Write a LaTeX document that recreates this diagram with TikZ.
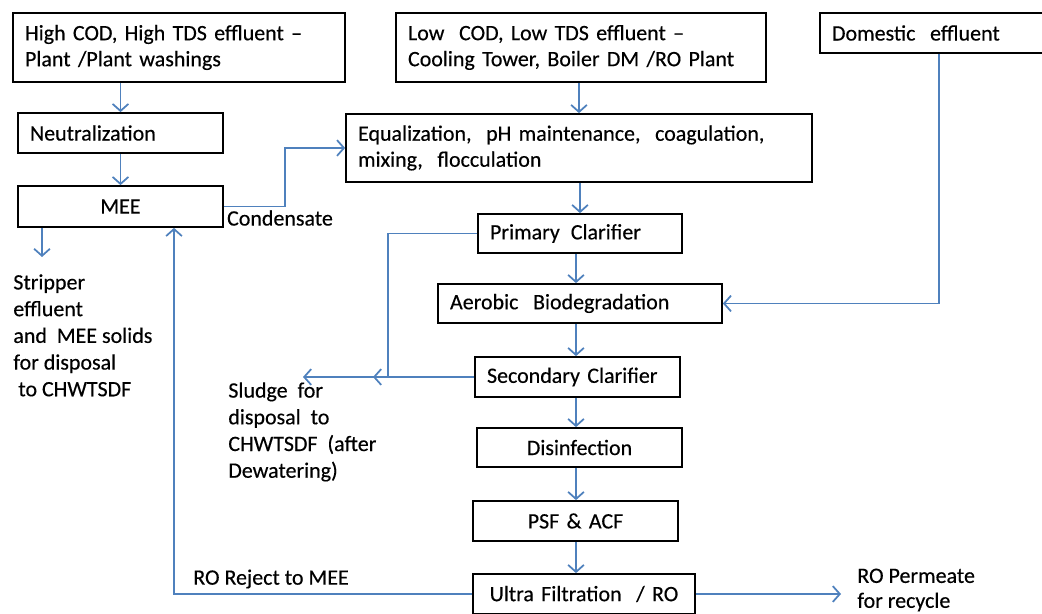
\documentclass[tikz,border=0pt]{standalone}
\usepackage{fontspec}
\setmainfont{Carlito}[FakeBold=0.35]
\usepackage{tikz}
\usetikzlibrary{arrows.meta}
\definecolor{flowblue}{RGB}{79,129,189}

\begin{document}
\begin{tikzpicture}[x=0.02cm, y=-0.02cm,
	box/.style={draw, line width=1pt, inner xsep=0.24cm, inner ysep=0pt, font=\fontsize{12.5}{14.8}\selectfont},
	flow/.style={draw=flowblue, line width=1pt, -{Straight Barb[length=4pt, width=9pt]}},
	txt/.style={inner sep=0pt, align=left, font=\fontsize{12.5}{15.2}\selectfont}]
	\useasboundingbox (0,0) rectangle (1042,614);

	% feed streams
	\node[box, text width=6.16cm, minimum height=1.38cm, align=left] (src1) at (179,47.5) {High COD, High TDS effluent –\\Plant /Plant washings};
	\node[box, text width=6.92cm, minimum height=1.38cm, align=left] (src2) at (581,47.5) {Low~ COD, Low TDS effluent –\\Cooling Tower, Boiler DM /RO Plant};
	\node[box, text width=4.28cm, minimum height=0.80cm, align=left] (dom) at (939,33) {Domestic~ effluent};

	% high TDS line
	\node[box, text width=3.62cm, minimum height=0.80cm, align=left] (neut) at (120.5,133) {Neutralization};
	\node[box, text width=3.62cm, minimum height=0.82cm, align=center] (mee) at (120.5,206.5) {MEE};

	% main line
	\node[box, text width=8.84cm, minimum height=1.36cm, align=left] (equal) at (579,148) {Equalization,~ pH maintenance,~ coagulation,\\mixing,~ flocculation};
	\node[box, text width=3.60cm, minimum height=0.78cm, align=left] (prim) at (580,233.5) {Primary\, Clarifier};
	\node[box, text width=5.20cm, minimum height=0.78cm, align=left] (aero) at (580,303.5) {Aerobic~ Biodegradation};
	\node[box, text width=3.62cm, minimum height=0.80cm, align=left] (sec) at (577.5,377) {Secondary Clarifier};
	\node[box, text width=3.62cm, minimum height=0.78cm, align=center] (dis) at (579.5,447.5) {Disinfection};
	\node[box, text width=3.62cm, minimum height=0.80cm, align=center] (psf) at (575.5,521) {PSF \& ACF};
	\node[box, text width=3.96cm, minimum height=0.80cm, align=center] (ufro) at (584,594) {Ultra Filtration~ / RO};

	% free texts
	\node[txt, anchor=north west] (strip) at (13,274) {Stripper\\effluent\\and~ MEE solids\\for disposal\\\hspace{0.1cm}to CHWTSDF};
	\node[txt, anchor=north west] (sludge) at (228,382) {Sludge~ for\\disposal~ to\\CHWTSDF~ (after\\Dewatering)};
	\node[txt] (cond) at (280,218) {Condensate};
	\node[txt] (rejlbl) at (271,579) {RO Reject to MEE};
	\node[txt, anchor=west, inner xsep=0.32cm, font=\fontsize{12.5}{14.2}\selectfont] (perm) at (841,590) {RO Permeate\\for recycle};

	\coordinate (col) at (576,0);
	\coordinate (stripTop) at (42,257);
	\coordinate (rejCol) at (174,0);
	\coordinate (sludgeMid) at (373,377);
	\coordinate (sludgeRise) at (388,377);
	\coordinate (sludgeEnd) at (303,377);

	\draw[flow] (src1.south -| neut.north) -- (neut.north);
	\draw[flow] (neut) -- (mee);
	\draw[flow] (mee.south -| stripTop) -- (stripTop);
	\draw[flow] (mee.east) -- ++(61,0) |- (equal.west);
	\draw[flow] (equal.north |- src2.south) -- (equal.north);
	\draw[flow] (prim.north |- equal.south) -- (prim.north);
	\draw[flow] (col |- prim.south) -- (col |- aero.north);
	\draw[flow] (dom.south) |- (aero.east);
	\draw[flow] (col |- aero.south) -- (col |- sec.north);
	\draw[flow] (col |- sec.south) -- (col |- dis.north);
	\draw[flow] (col |- dis.south) -- (col |- psf.north);
	\draw[flow] (col |- psf.south) -- (col |- ufro.north);

	% sludge and reject returns
	\draw[flow] (sec.west) -- (sludgeMid);
	\draw[flow] (prim.west) -| (sludgeRise) -- (sludgeEnd);
	\draw[flow] (ufro.west) -| (rejCol |- mee.south);
	\draw[flow] (ufro.east) -- (ufro.east -| perm.west);
\end{tikzpicture}
\end{document}
